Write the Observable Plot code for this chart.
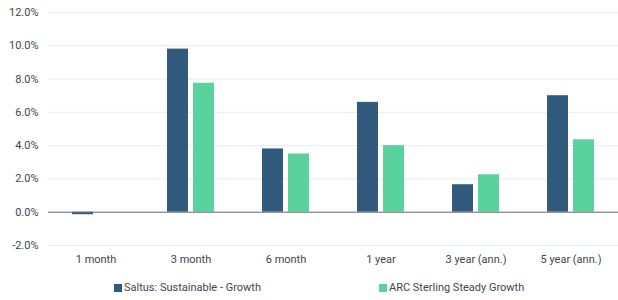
<!DOCTYPE html>
<html>
<head>
<meta charset="utf-8">
<script src="https://cdn.jsdelivr.net/npm/d3@7"></script>
<script src="https://cdn.jsdelivr.net/npm/@observablehq/plot@0.6"></script>
<style>
  body { margin: 0; background: #fff; font-family: Roboto, "Noto Sans", sans-serif; }
  #legend { position: relative; height: 28px; font-size: 11px; color: #3d4650; }
  .item { position: absolute; top: 9px; display: flex; align-items: center; white-space: nowrap; }
  .sw { width: 8px; height: 8px; margin-right: 2px; display: inline-block; }
</style>
</head>
<body>
<div id="chart"></div>
<div id="legend"></div>
<script>
const categories = ["1 month", "3 month", "6 month", "1 year", "3 year (ann.)", "5 year (ann.)"];
const seriesNames = ["Saltus: Sustainable - Growth", "ARC Sterling Steady Growth"];
const saltus = [-0.15, 9.8, 3.8, 6.6, 1.65, 7.0];
const arc = [0, 7.75, 3.5, 4.0, 2.25, 4.35];
const yTicks = [-2, 0, 2, 4, 6, 8, 10, 12];
const colors = ["#325a7d", "#5ad29e"];

const data = [];
categories.forEach((c, i) => {
  data.push({cat: c, series: seriesNames[0], value: saltus[i]});
  data.push({cat: c, series: seriesNames[1], value: arc[i]});
});

const chart = Plot.plot({
  width: 618,
  height: 272,
  marginLeft: 48,
  marginRight: 0,
  marginTop: 12,
  marginBottom: 27,
  style: {fontFamily: "Roboto, 'Noto Sans', sans-serif", fontSize: "11px", color: "#3d4650"},
  fx: {domain: categories, padding: 0, label: null},
  x: {domain: seriesNames, paddingInner: 0.185, paddingOuter: 0.852, axis: null},
  y: {domain: [-2, 12], label: null},
  color: {domain: seriesNames, range: colors},
  marks: [
    Plot.ruleY(yTicks, {stroke: "#e4ecf4", strokeWidth: 1}),
    Plot.barY(data, {fx: "cat", x: "series", y: "value", fill: "series"}),
    Plot.ruleY([0], {stroke: "#6b7079", strokeWidth: 1}),
    Plot.axisY({ticks: yTicks, tickFormat: d => d.toFixed(1) + "%", tickSize: 0, tickPadding: 10, fill: "#3d4650", label: null}),
    Plot.axisFx({anchor: "bottom", tickSize: 0, tickPadding: 10, fill: "#3d4650", label: null})
  ]
});
document.getElementById("chart").appendChild(chart);

const legend = document.getElementById("legend");
const lefts = [114, 379];
seriesNames.forEach((s, i) => {
  const it = document.createElement("div");
  it.className = "item";
  it.style.left = lefts[i] + "px";
  const sw = document.createElement("span");
  sw.className = "sw";
  sw.style.background = colors[i];
  it.appendChild(sw);
  const t = document.createElement("span");
  t.textContent = s;
  it.appendChild(t);
  legend.appendChild(it);
});
</script>
</body>
</html>
